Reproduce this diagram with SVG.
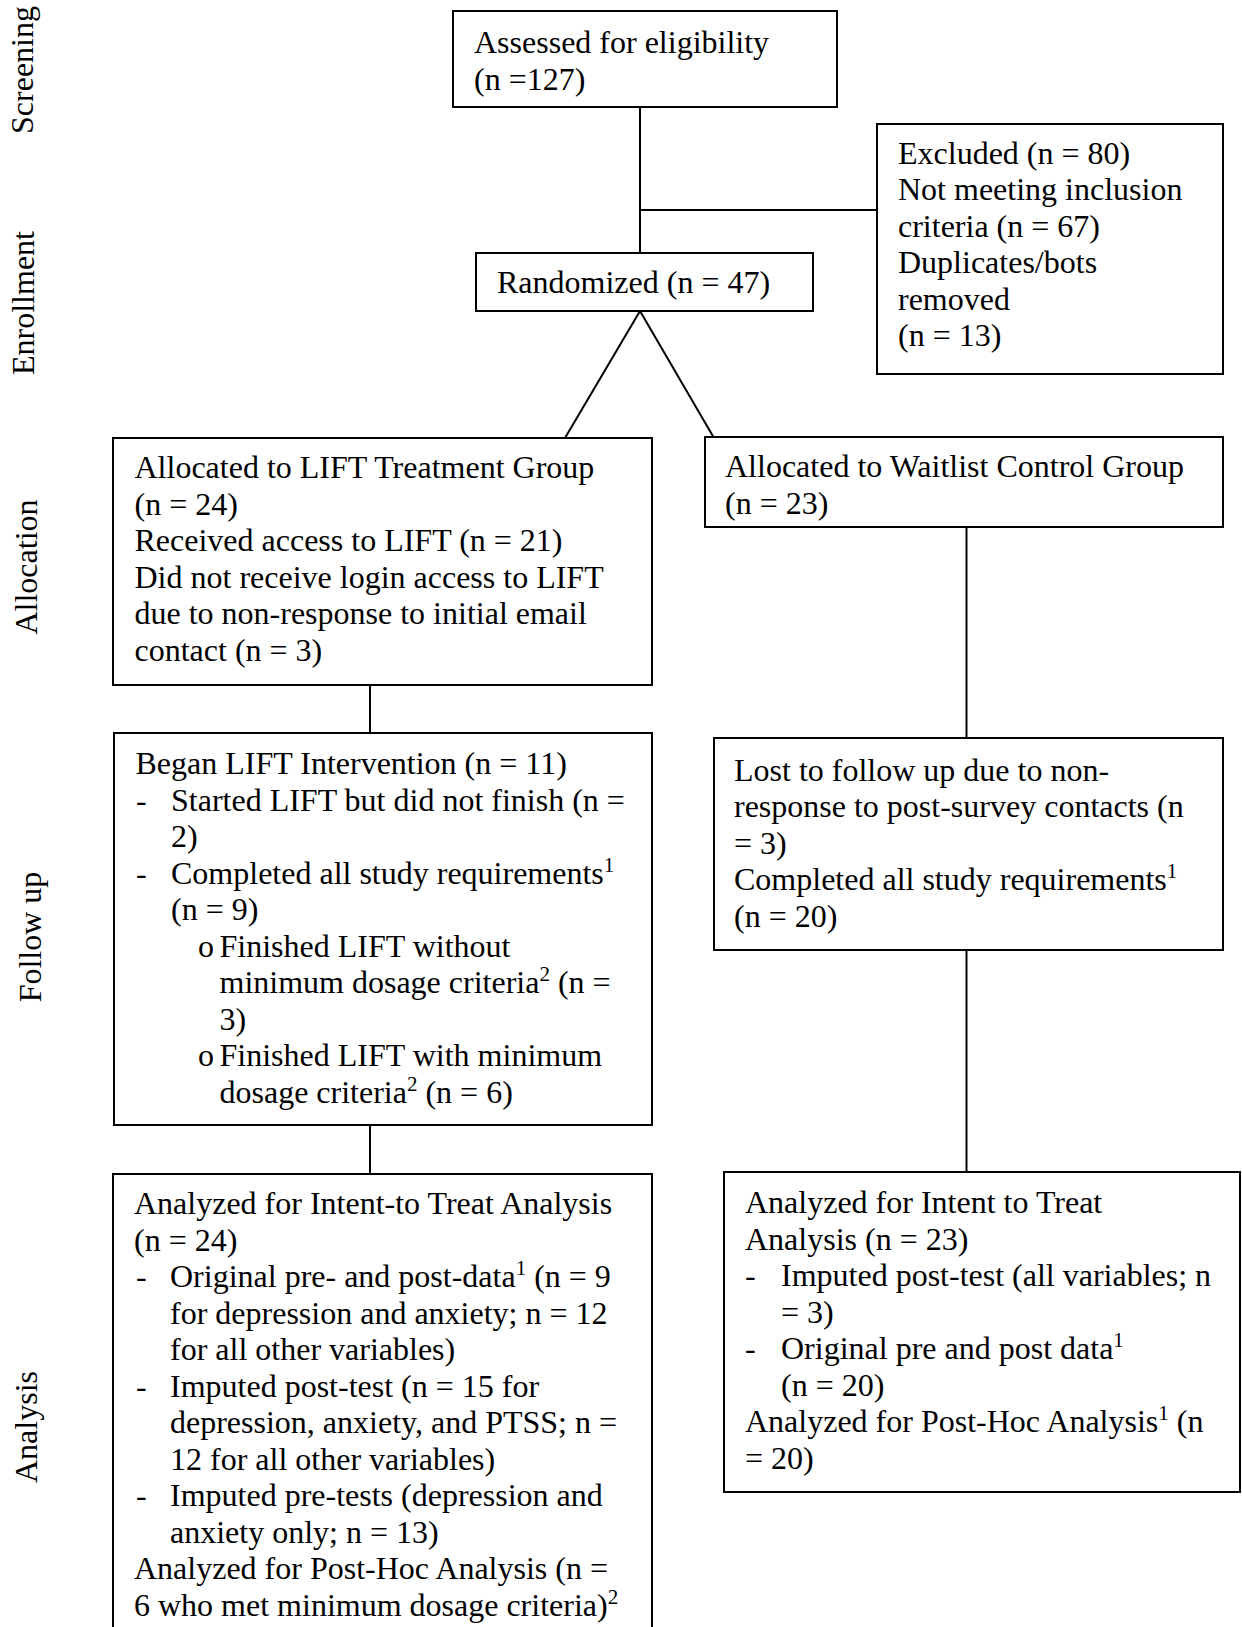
<svg xmlns="http://www.w3.org/2000/svg" width="1242" height="1627" viewBox="0 0 1242 1627">
<style>
  .box { fill: #fff; stroke: #000; stroke-width: 2; }
  .conn line { stroke: #000; stroke-width: 2; }
  text { font-family: "Liberation Serif", "Times New Roman", serif; font-size: 32px; fill: #000; }
  .sup { font-size: 21px; }
  .side { font-size: 32px; }
</style>
<rect width="1242" height="1627" fill="#fff"/>

<g id="phase-labels">
  <text class="side" transform="translate(33,70) rotate(-90)" text-anchor="middle">Screening</text>
  <text class="side" transform="translate(34,303) rotate(-90)" text-anchor="middle">Enrollment</text>
  <text class="side" transform="translate(37,567) rotate(-90)" text-anchor="middle">Allocation</text>
  <text class="side" transform="translate(41,937) rotate(-90)" text-anchor="middle">Follow up</text>
  <text class="side" transform="translate(37,1427) rotate(-90)" text-anchor="middle">Analysis</text>
</g>

<g id="connectors" class="conn">
  <line x1="640" y1="107" x2="640" y2="253"/>
  <line x1="640" y1="210" x2="877" y2="210"/>
  <line x1="640" y1="311" x2="565" y2="438"/>
  <line x1="640" y1="311" x2="714" y2="438"/>
  <line x1="370" y1="685" x2="370" y2="733"/>
  <line x1="966.5" y1="527" x2="966.5" y2="738"/>
  <line x1="370" y1="1125" x2="370" y2="1174"/>
  <line x1="966.5" y1="950" x2="966.5" y2="1172"/>
</g>

<g id="assessed">
  <rect class="box" x="453" y="11" width="384" height="96"/>
  <text x="474" y="53">Assessed for eligibility</text>
  <text x="474" y="89.5">(n =127)</text>
</g>

<g id="excluded">
  <rect class="box" x="877" y="124" width="346" height="250"/>
  <text x="898" y="163.5">Excluded (n = 80)</text>
  <text x="898" y="200">Not meeting inclusion</text>
  <text x="898" y="236.5">criteria (n = 67)</text>
  <text x="898" y="273">Duplicates/bots</text>
  <text x="898" y="309.5">removed</text>
  <text x="898" y="346">(n = 13)</text>
</g>

<g id="randomized">
  <rect class="box" x="476" y="253" width="337" height="58"/>
  <text x="497" y="293">Randomized (n = 47)</text>
</g>

<g id="lift-allocated">
  <rect class="box" x="113" y="438" width="539" height="247"/>
  <text x="134.5" y="478">Allocated to LIFT Treatment Group</text>
  <text x="134.5" y="514.5">(n = 24)</text>
  <text x="134.5" y="551">Received access to LIFT (n = 21)</text>
  <text x="134.5" y="587.5">Did not receive login access to LIFT</text>
  <text x="134.5" y="624">due to non-response to initial email</text>
  <text x="134.5" y="660.5">contact (n = 3)</text>
</g>

<g id="waitlist-allocated">
  <rect class="box" x="705" y="437" width="518" height="90"/>
  <text x="725" y="477">Allocated to Waitlist Control Group</text>
  <text x="725" y="513.5">(n = 23)</text>
</g>

<g id="lift-followup">
  <rect class="box" x="114" y="733" width="538" height="392"/>
  <text x="135.5" y="774">Began LIFT Intervention (n = 11)</text>
  <text x="136" y="810.5">-</text>
  <text x="171" y="810.5">Started LIFT but did not finish (n =</text>
  <text x="171" y="847">2)</text>
  <text x="136" y="883.5">-</text>
  <text x="171" y="883.5">Completed all study requirements<tspan class="sup" dy="-12">1</tspan></text>
  <text x="171" y="920">(n = 9)</text>
  <text x="198" y="956.5">o</text>
  <text x="219.5" y="956.5">Finished LIFT without</text>
  <text x="219.5" y="993">minimum dosage criteria<tspan class="sup" dy="-12">2</tspan><tspan dy="12"> (n =</tspan></text>
  <text x="219.5" y="1029.5">3)</text>
  <text x="198" y="1066">o</text>
  <text x="219.5" y="1066">Finished LIFT with minimum</text>
  <text x="219.5" y="1102.5">dosage criteria<tspan class="sup" dy="-12">2</tspan><tspan dy="12"> (n = 6)</tspan></text>
</g>

<g id="waitlist-followup">
  <rect class="box" x="714" y="738" width="509" height="212"/>
  <text x="734" y="780.5">Lost to follow up due to non-</text>
  <text x="734" y="817">response to post-survey contacts (n</text>
  <text x="734" y="853.5">= 3)</text>
  <text x="734" y="890">Completed all study requirements<tspan class="sup" dy="-12">1</tspan></text>
  <text x="734" y="926.5">(n = 20)</text>
</g>

<g id="lift-analysis">
  <rect class="box" x="113" y="1174" width="539" height="470"/>
  <text x="134" y="1214">Analyzed for Intent-to Treat Analysis</text>
  <text x="134" y="1250.5">(n = 24)</text>
  <text x="136" y="1287">-</text>
  <text x="170" y="1287">Original pre- and post-data<tspan class="sup" dy="-12">1</tspan><tspan dy="12"> (n = 9</tspan></text>
  <text x="170" y="1323.5">for depression and anxiety; n = 12</text>
  <text x="170" y="1360">for all other variables)</text>
  <text x="136" y="1396.5">-</text>
  <text x="170" y="1396.5">Imputed post-test (n = 15 for</text>
  <text x="170" y="1433">depression, anxiety, and PTSS; n =</text>
  <text x="170" y="1469.5">12 for all other variables)</text>
  <text x="136" y="1506">-</text>
  <text x="170" y="1506">Imputed pre-tests (depression and</text>
  <text x="170" y="1542.5">anxiety only; n = 13)</text>
  <text x="134" y="1579">Analyzed for Post-Hoc Analysis (n =</text>
  <text x="134" y="1615.5">6 who met minimum dosage criteria)<tspan class="sup" dy="-12">2</tspan></text>
</g>

<g id="waitlist-analysis">
  <rect class="box" x="724" y="1172" width="516" height="320"/>
  <text x="745" y="1213">Analyzed for Intent to Treat</text>
  <text x="745" y="1249.5">Analysis (n = 23)</text>
  <text x="745" y="1286">-</text>
  <text x="781" y="1286">Imputed post-test (all variables; n</text>
  <text x="781" y="1322.5">= 3)</text>
  <text x="745" y="1359">-</text>
  <text x="781" y="1359">Original pre and post data<tspan class="sup" dy="-12">1</tspan></text>
  <text x="781" y="1395.5">(n = 20)</text>
  <text x="745" y="1432">Analyzed for Post-Hoc Analysis<tspan class="sup" dy="-12">1</tspan><tspan dy="12"> (n</tspan></text>
  <text x="745" y="1468.5">= 20)</text>
</g>
</svg>
